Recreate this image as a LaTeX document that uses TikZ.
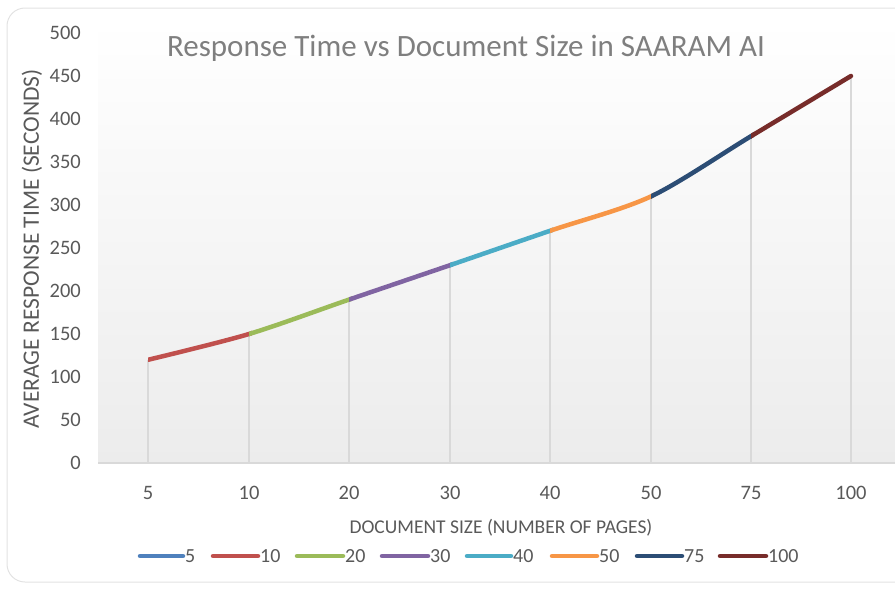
\documentclass[tikz,border=0pt]{standalone}
\usepackage{fontspec}
\setmainfont{Carlito}
\usetikzlibrary{calc}

% series colours
\definecolor{sFive}{HTML}{4F81BD}
\definecolor{sTen}{HTML}{C0504D}
\definecolor{sTwenty}{HTML}{9BBB59}
\definecolor{sThirty}{HTML}{8064A2}
\definecolor{sForty}{HTML}{4BACC6}
\definecolor{sFifty}{HTML}{F79646}
\definecolor{sSeventyFive}{HTML}{2C4D75}
\definecolor{sHundred}{HTML}{772C2A}
% chart furniture
\definecolor{labelgray}{HTML}{595959}
\definecolor{titlegray}{HTML}{7F7F7F}
\definecolor{gridgray}{HTML}{D9D9D9}
\definecolor{plotgray}{HTML}{ECECEC}
\definecolor{framegray}{HTML}{E2E2E2}

\tikzset{
  ticklab/.style={text=labelgray, inner sep=0pt, font=\fontsize{20.5}{24}\selectfont},
  axistitle/.style={text=labelgray, inner sep=0pt},
  charttitle/.style={text=titlegray, inner sep=0pt, font=\fontsize{31}{36}\selectfont},
  dropline/.style={draw=gridgray, line width=1.1pt},
  series/.style={line width=4.5pt},
  legline/.style={line width=4.5pt, line cap=round},
  legtext/.style={text=labelgray, inner sep=0pt, anchor=west, font=\fontsize{20}{24}\selectfont},
}

\begin{document}
\begin{tikzpicture}[x=1pt, y=-1pt]
\useasboundingbox (0,0) rectangle (895,589);

% plot area background and chart frame
\shade[top color=white, bottom color=plotgray] (98,20) rectangle (895,463);
\draw[framegray, line width=1pt, rounded corners=18pt] (7,8) rectangle (915,582);

% data points (value v at y = 463 - 0.86 v) and their feet on the axis
\foreach \i/\x/\v in {1/148/120, 2/249/150, 3/349/190, 4/450/230,
                      5/550/270, 6/651/310, 7/751/380, 8/851/450}{
  \coordinate (p\i) at (\x,{463-0.86*\v});
  \coordinate (b\i) at (\x,463);
}

% drop lines
\foreach \i in {1,...,8}{
  \draw[dropline] (p\i) -- (b\i);
}

% horizontal axis
\coordinate (axL) at (98,463);
\coordinate (axR) at (895,463);
\draw[gridgray, line width=2pt] (axL) -- (axR);

% smoothed curve, coloured piece by piece
\foreach \xa/\xb/\col in {148/249/sTen, 249/349/sTwenty, 349/450/sThirty,
                          450/550/sForty, 550/651/sFifty, 651/751/sSeventyFive,
                          751/851/sHundred}{
  \begin{scope}
    \clip (\xa,0) rectangle (\xb+3,589);
    \draw[series, draw=\col, line cap=round]
      plot[smooth, tension=0.5] coordinates {(p1) (p2) (p3) (p4) (p5) (p6) (p7) (p8)};
  \end{scope}
}

% value axis labels
\foreach \v in {0,50,...,500}{
  \node[ticklab, anchor=east] (yl\v) at (81,{463-0.86*\v}) {\v};
}

% category axis labels
\foreach \i/\x/\t in {1/148/5, 2/249/10, 3/349/20, 4/450/30,
                      5/550/40, 6/651/50, 7/751/75, 8/851/100}{
  \node[ticklab] (xl\i) at (\x,493) {\t};
}

% titles
\node[charttitle] (title) at (466,48) {Response Time vs Document Size in SAARAM AI};
\node[axistitle, rotate=90, font=\fontsize{23.5}{27}\selectfont] (ytitle) at (32,249)
  {AVERAGE RESPONSE TIME (SECONDS)};
\node[axistitle, font=\fontsize{19.5}{23}\selectfont] (xtitle) at (501,528)
  {DOCUMENT SIZE (NUMBER OF PAGES)};

% legend
\foreach \k/\xa/\xb/\col/\t in {1/140/183/sFive/5, 2/213/258/sTen/10,
                                3/297/343/sTwenty/20, 4/382/428/sThirty/30,
                                5/467/511/sForty/40, 6/552/597/sFifty/50,
                                7/637/682/sSeventyFive/75, 8/720/766/sHundred/100}{
  \coordinate (lgA\k) at (\xa,556);
  \coordinate (lgB\k) at (\xb,556);
  \draw[legline, draw=\col] (lgA\k) -- (lgB\k);
  \node[legtext] (lgT\k) at (\xb+2,556) {\t};
}
\end{tikzpicture}
\end{document}
